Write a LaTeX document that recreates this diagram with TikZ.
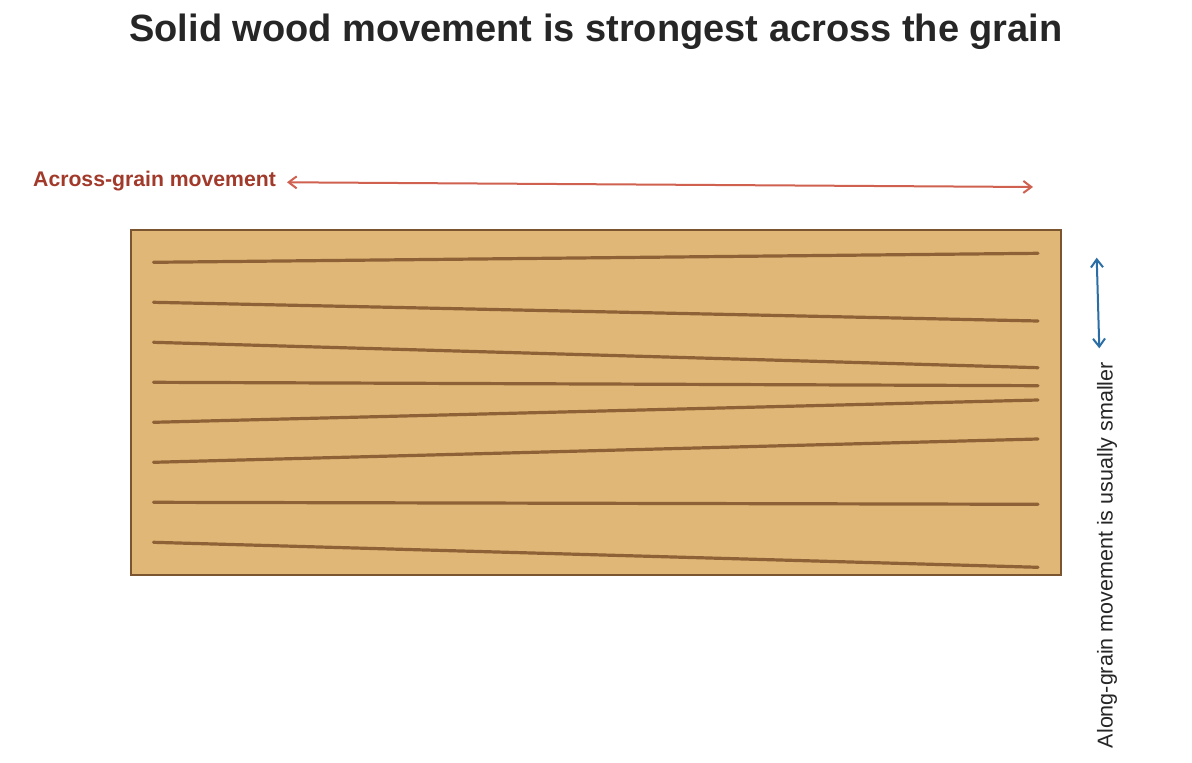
\documentclass[tikz,border=0pt]{standalone}
\usepackage{fontspec}
\setmainfont{Liberation Sans}
\usetikzlibrary{arrows.meta}
\definecolor{boardfill}{HTML}{E0B777}
\definecolor{boardedge}{HTML}{7B5530}
\definecolor{grain}{HTML}{8E6236}
\definecolor{redarrow}{HTML}{D0604F}
\definecolor{redlabel}{HTML}{A23A2B}
\definecolor{bluearrow}{HTML}{2B6EA6}
\definecolor{titlecol}{HTML}{262626}
\tikzset{
  board/.style={draw=boardedge, fill=boardfill, line width=2bp},
  grainline/.style={draw=grain, line width=3.2bp, line cap=round},
  movearrow/.style={{Straight Barb[length=8bp,width=12bp,line width=2bp]}-{Straight Barb[length=8bp,width=12bp,line width=2bp]}, line width=2bp},
}
\begin{document}
\begin{tikzpicture}[x=1bp,y=-1bp]
\useasboundingbox (0,0) rectangle (1192,763);
\fill[white] (0,0) rectangle (1192,763);
\node[anchor=base, inner sep=0, text=titlecol, font=\fontsize{38bp}{44bp}\selectfont\bfseries] (title) at (596,41.7) {Solid wood movement is strongest across the grain};
\draw[board] (131,230) rectangle (1061,575);
\coordinate (board) at (596,402.5);
\draw[grainline] (153.5,262.3) -- (1038,253.3);
\draw[grainline] (153.5,302.3) -- (1038,321);
\draw[grainline] (153.5,342.3) -- (1038,367.7);
\draw[grainline] (153.5,382.3) -- (1038,385.7);
\draw[grainline] (153.5,422.3) -- (1038,400);
\draw[grainline] (153.5,462.3) -- (1038,439);
\draw[grainline] (153.5,502.3) -- (1038,504.3);
\draw[grainline] (153.5,542.3) -- (1038,567.3);
\node[anchor=base west, inner sep=0, text=redlabel, font=\fontsize{21.2bp}{25bp}\selectfont\bfseries] (acrosslabel) at (33,186.7) {Across-grain movement};
\coordinate (a1) at (287,182.3);
\coordinate (a2) at (1033,187);
\draw[movearrow, draw=redarrow] (a1) -- (a2);
\coordinate (b1) at (1096.7,257.7);
\coordinate (b2) at (1099.3,348.3);
\draw[movearrow, draw=bluearrow] (b1) -- (b2);
\node[anchor=base west, inner sep=0, rotate=90, text=titlecol, font=\fontsize{21.5bp}{25bp}\selectfont] (alonglabel) at (1112.5,748.3) {Along-grain movement is usually smaller};
\end{tikzpicture}
\end{document}
